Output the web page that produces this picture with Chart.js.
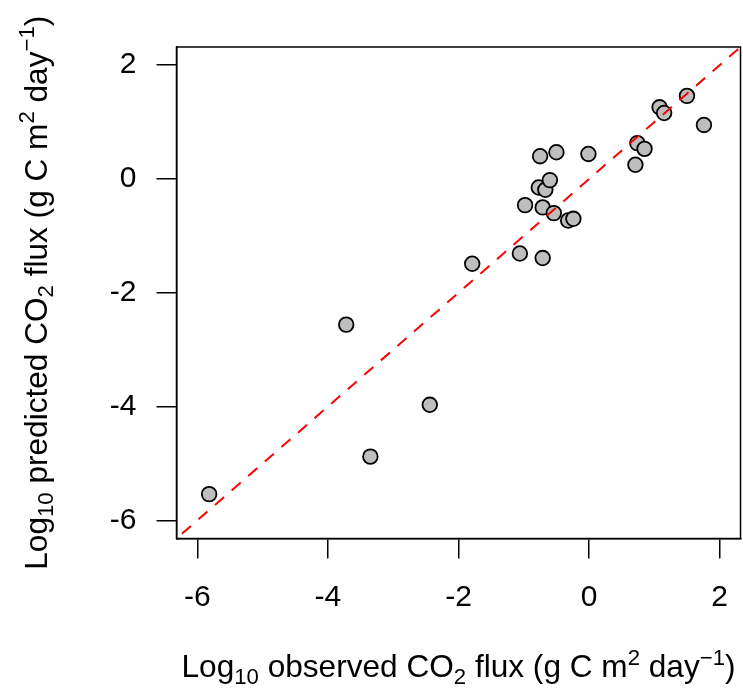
<!DOCTYPE html>
<html>
<head>
<meta charset="utf-8">
<script src="https://cdn.jsdelivr.net/npm/chart.js@4"></script>
<style>
  html, body { margin: 0; padding: 0; background: #ffffff; }
  #wrap { width: 743px; height: 691px; }
</style>
</head>
<body>
<div id="wrap"><canvas id="c" width="743" height="691"></canvas></div>
<script>
// ---- data (log10 CO2 flux, g C m^2 day^-1) ----
const observed = [-5.82, -3.72, -3.35, -2.44, -1.79, -1.06, -0.71, -0.98, -0.71, -0.54,
                  -0.32, -0.24, -0.77, -0.67, -0.60, -0.75, -0.50, -0.01, 0.71, 0.74,
                  0.85, 1.08, 1.15, 1.50, 1.76];
const predicted = [-5.54, -2.56, -4.88, -3.97, -1.49, -1.31, -1.39, -0.46, -0.50, -0.60,
                   -0.73, -0.70, -0.15, -0.19, -0.02, 0.40, 0.47, 0.44, 0.25, 0.63,
                   0.53, 1.26, 1.16, 1.46, 0.95];
const xTickValues = [-6, -4, -2, 0, 2];
const yTickValues = [-6, -4, -2, 0, 2];
const axisMin = -6.32;
const axisMax = 2.32;
const oneToOne = [-7, 3]; // 1:1 reference line ends (y = x)

const FONT = '"Liberation Sans", Arial, Helvetica, sans-serif';
const xTitle = [["Log", 0], ["10", -1], [" observed CO", 0], ["2", -1], [" flux (g C m", 0], ["2", 1], [" day", 0], ["\u22121", 1], [")", 0]];
const yTitle = [["Log", 0], ["10", -1], [" predicted CO", 0], ["2", -1], [" flux (g C m", 0], ["2", 1], [" day", 0], ["\u22121", 1], [")", 0]];

const TICK = 30, MAIN = 31.6, SMALL = 22.2;
function drawRich(ctx, segs, cx, baseY) {
  let total = 0;
  const widths = segs.map(([t, k]) => {
    ctx.font = (k === 0 ? MAIN : SMALL) + 'px ' + FONT;
    const w = ctx.measureText(t).width; total += w; return w;
  });
  let x = cx - total / 2;
  ctx.textBaseline = 'alphabetic';
  ctx.textAlign = 'left';
  segs.forEach(([t, k], i) => {
    ctx.font = (k === 0 ? MAIN : SMALL) + 'px ' + FONT;
    const dy = k === -1 ? 6.8 : (k === 1 ? -12.5 : 0);
    ctx.fillText(t, x, baseY + dy);
    x += widths[i];
  });
}

const framePlugin = {
  id: 'frame',
  afterDraw(chart) {
    const { ctx, chartArea: a } = chart;
    ctx.save();
    ctx.strokeStyle = '#000';
    ctx.lineWidth = 1.5;
    ctx.strokeRect(a.left, a.top, a.right - a.left, a.bottom - a.top);
    ctx.fillStyle = '#000';
    drawRich(ctx, xTitle, (a.left + a.right) / 2, 677);
    ctx.translate(46.5, (a.top + a.bottom) / 2);
    ctx.rotate(-Math.PI / 2);
    drawRich(ctx, yTitle, 0, 0);
    ctx.restore();
  }
};

const axisCommon = {
  type: 'linear',
  min: axisMin,
  max: axisMax,
  grid: { display: true, drawOnChartArea: false, drawTicks: true, tickLength: 20, color: '#000', lineWidth: 1.5 },
  border: { display: true, color: '#000', width: 1.5 },
};
function noPad(s) { s.paddingLeft = 0; s.paddingRight = 0; s.paddingTop = 0; s.paddingBottom = 0; }

new Chart(document.getElementById('c'), {
  type: 'scatter',
  data: {
    datasets: [
      {
        label: 'sites',
        data: observed.map((v, i) => ({ x: v, y: predicted[i] })),
        backgroundColor: '#BEBEBE',
        borderColor: '#000000',
        borderWidth: 1.8,
        pointRadius: 7.3,
        pointHoverRadius: 7.3,
        order: 2
      },
      {
        type: 'line',
        label: '1:1',
        data: oneToOne.map(v => ({ x: v, y: v })),
        borderColor: '#FF0000',
        borderWidth: 2,
        borderDash: [12, 10],
        pointRadius: 0,
        fill: false,
        order: 1
      }
    ]
  },
  options: {
    responsive: false,
    animation: false,
    layout: { autoPadding: false, padding: { top: 47, right: 2.5, bottom: 0, left: 0 } },
    plugins: { legend: { display: false }, tooltip: { enabled: false } },
    scales: {
      x: Object.assign({}, axisCommon, {
        position: 'bottom',
        afterBuildTicks: s => { s.ticks = xTickValues.map(v => ({ value: v })); },
        afterFit: s => { s.height = 152.5; noPad(s); },
        ticks: { font: { size: TICK, family: FONT }, color: '#000', padding: 21, maxRotation: 0, autoSkip: false, callback: v => String(v) }
      }),
      y: Object.assign({}, axisCommon, {
        position: 'left',
        afterBuildTicks: s => { s.ticks = yTickValues.map(v => ({ value: v })); },
        afterFit: s => { s.width = 176.5; noPad(s); },
        ticks: { font: { size: TICK, family: FONT }, color: '#000', padding: 20, autoSkip: false, callback: v => String(v) }
      })
    }
  },
  plugins: [framePlugin]
});
</script>
</body>
</html>
